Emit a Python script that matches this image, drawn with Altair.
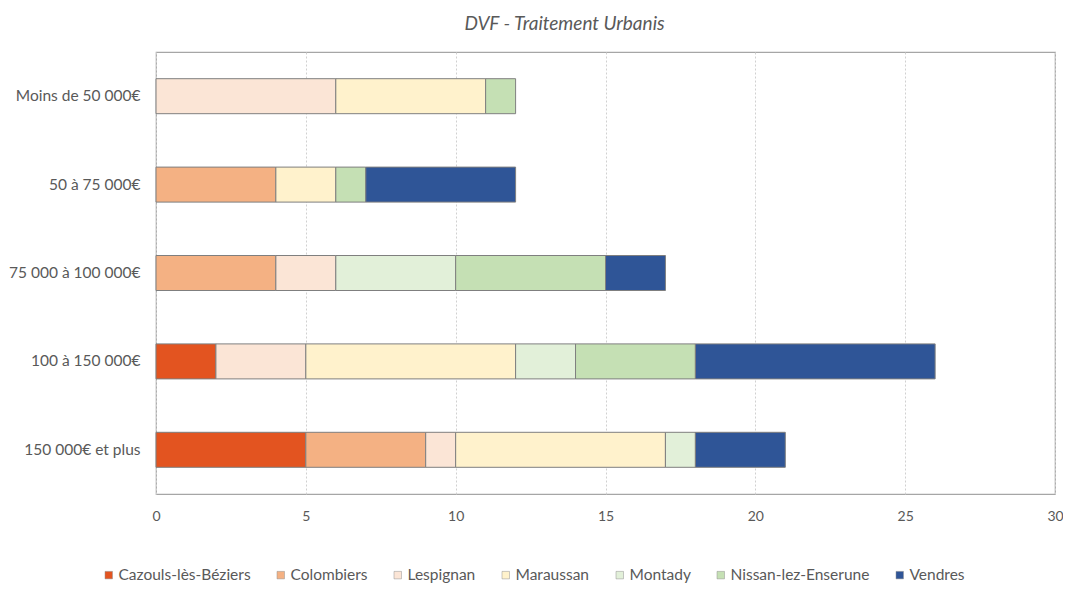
import altair as alt
import pandas as pd

categories = ["Moins de 50 000€", "50 à 75 000€", "75 000 à 100 000€", "100 à 150 000€", "150 000€ et plus"]
communes = ["Cazouls-lès-Béziers", "Colombiers", "Lespignan", "Maraussan", "Montady", "Nissan-lez-Enserune", "Vendres"]
colors = ["#E35420", "#F4B183", "#FBE5D6", "#FFF2CC", "#E2F0D9", "#C5E0B4", "#2F5597"]

cazouls = [0, 0, 0, 2, 5]
colombiers = [0, 4, 4, 0, 4]
lespignan = [6, 0, 2, 3, 1]
maraussan = [5, 2, 0, 7, 7]
montady = [0, 0, 4, 2, 1]
nissan = [1, 1, 5, 4, 0]
vendres = [0, 5, 2, 8, 3]

series = [cazouls, colombiers, lespignan, maraussan, montady, nissan, vendres]
rows = []
for i, (name, vals) in enumerate(zip(communes, series)):
    for cat, v in zip(categories, vals):
        if v > 0:
            rows.append({"cat": cat, "commune": name, "n": v, "ord": i})
df = pd.DataFrame(rows)

font = "Lato"
txt = "#595959"

chart = alt.Chart(df).mark_bar(size=35, stroke="#7f7f7f", strokeWidth=1).encode(
    y=alt.Y("cat:N", sort=categories, title=None,
            axis=alt.Axis(ticks=False, domain=False, labelPadding=16, labelFontSize=15.5,
                          labelColor=txt, labelFont=font, grid=False)),
    x=alt.X("n:Q", stack="zero", title=None,
            scale=alt.Scale(domain=[0, 30], nice=False),
            axis=alt.Axis(values=[0, 5, 10, 15, 20, 25, 30], ticks=False, domain=False,
                          labelFlush=False, labelPadding=15, labelFontSize=14,
                          labelColor=txt, labelFont=font,
                          grid=True, gridColor="#d0d0d0", gridDash=[2, 2], gridWidth=1)),
    color=alt.Color("commune:N", sort=communes,
                    scale=alt.Scale(domain=communes, range=colors),
                    legend=alt.Legend(title=None, orient="none", direction="horizontal",
                                      legendX=-55, legendY=515, symbolType="square",
                                      symbolSize=56, symbolStrokeColor="#909090",
                                      symbolStrokeWidth=0.5, labelFontSize=15.5, labelFont=font,
                                      labelColor=txt, columnPadding=22, symbolOffset=0,
                                      labelOffset=2)),
    order=alt.Order("ord:Q", sort="ascending"),
).properties(
    width=899, height=442,
    title=alt.TitleParams("DVF - Traitement Urbanis", fontStyle="italic", fontWeight="normal",
                          fontSize=19, font=font, color=txt, offset=18, anchor="middle", dx=-41),
    autosize=alt.AutoSizeParams(type="none"),
    padding={"left": 148, "top": 44, "right": 8, "bottom": 90},
).configure_view(stroke="#a6a6a6", strokeWidth=1.2)

chart.save("out.html", embed_options={"renderer": "svg", "actions": False})
